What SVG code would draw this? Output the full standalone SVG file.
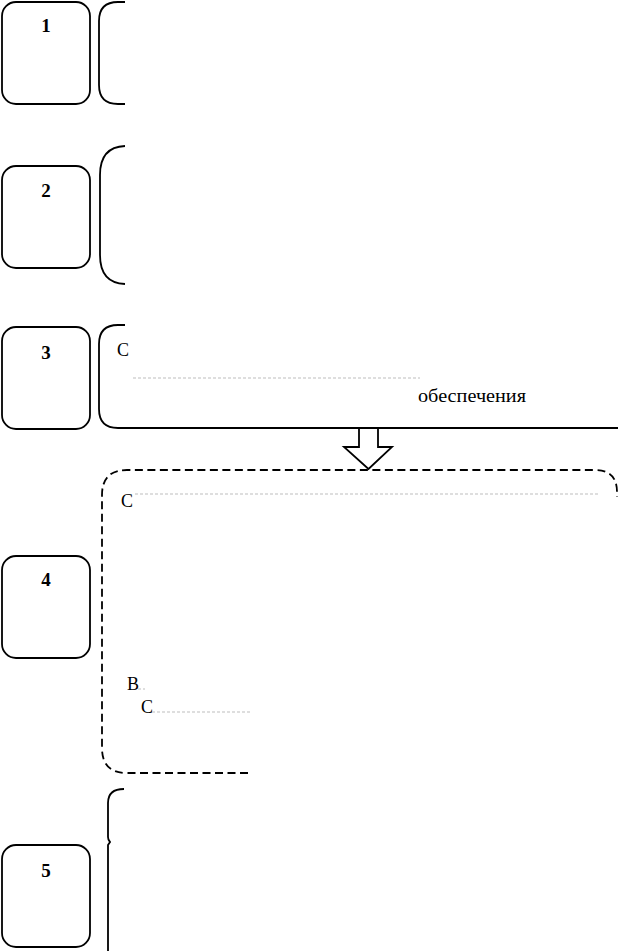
<svg xmlns="http://www.w3.org/2000/svg" width="618" height="951" viewBox="0 0 618 951">
<style>
.box{fill:none;stroke:#000;stroke-width:1.8}
.br{fill:none;stroke:#000;stroke-width:1.8}
.dash{fill:none;stroke:#000;stroke-width:1.8;stroke-dasharray:8 4.5}
.num{font-family:"Liberation Serif",serif;font-weight:bold;font-size:19px;text-anchor:middle;fill:#000}
.txt{font-family:"Liberation Serif",serif;font-size:18px;fill:#000}
.rem{stroke:#d4d4d4;stroke-width:1.5;stroke-dasharray:3 2;fill:none}
</style>
<rect width="618" height="951" fill="#fff"/>
<g id="step1">
<rect class="box" x="2" y="2" width="88" height="102" rx="14"/>
<text class="num" x="46" y="32">1</text>
<path id="bracket1" class="br" d="M125,2 L118,2 Q99,2 99,21 L99,85 Q99,104 118,104 L125,104"/>
</g>
<g id="step2">
<rect class="box" x="2" y="166" width="88" height="102" rx="14"/>
<text class="num" x="46" y="197">2</text>
<path id="bracket2" class="br" d="M125,146 Q100,147 100,175 L100,255 Q100,283 125,284"/>
</g>
<g id="step3">
<rect class="box" x="2" y="327" width="88" height="102" rx="14"/>
<text class="num" x="46" y="359">3</text>
<path class="br" d="M125,325 L118,325 Q99,325 99,344 L99,409 Q99,428 118,428 L618,428"/>
<text class="txt" x="117" y="356">С</text>
<line class="rem" x1="133" y1="378" x2="420" y2="378"/>
<text class="txt" x="418" y="402" textLength="108" lengthAdjust="spacingAndGlyphs">обеспечения</text>
</g>
<g id="step4">
<rect class="box" x="2" y="556" width="88" height="102" rx="14"/>
<text class="num" x="46" y="586">4</text>
<path class="dash" d="M248,773 L127,773 Q102,773 102,748 L102,495 Q102,470 127,470 L595,470 Q617,470 617,492 L617,497"/>
<text class="txt" x="121" y="507">С</text>
<line class="rem" x1="135" y1="494" x2="600" y2="494"/>
<text class="txt" x="127" y="690" font-size="14">В</text>
<line class="rem" x1="138" y1="689" x2="145" y2="689"/>
<text class="txt" x="141" y="713" font-size="14">С</text>
<line class="rem" x1="152" y1="712" x2="250" y2="712"/>
</g>
<g id="step5">
<rect class="box" x="2" y="845" width="88" height="102" rx="14"/>
<text class="num" x="46" y="877">5</text>
<path class="br" d="M124,789 Q108,789 108,803 L108,837 Q108,840 110,842 L108,845 L108,951"/>
</g>
<g id="connectors">
<path class="box" d="M359,428 L359,447 L344,447 L368.5,469 L392,447 L378,447 L378,428" fill="#fff"/>
</g>
</svg>
